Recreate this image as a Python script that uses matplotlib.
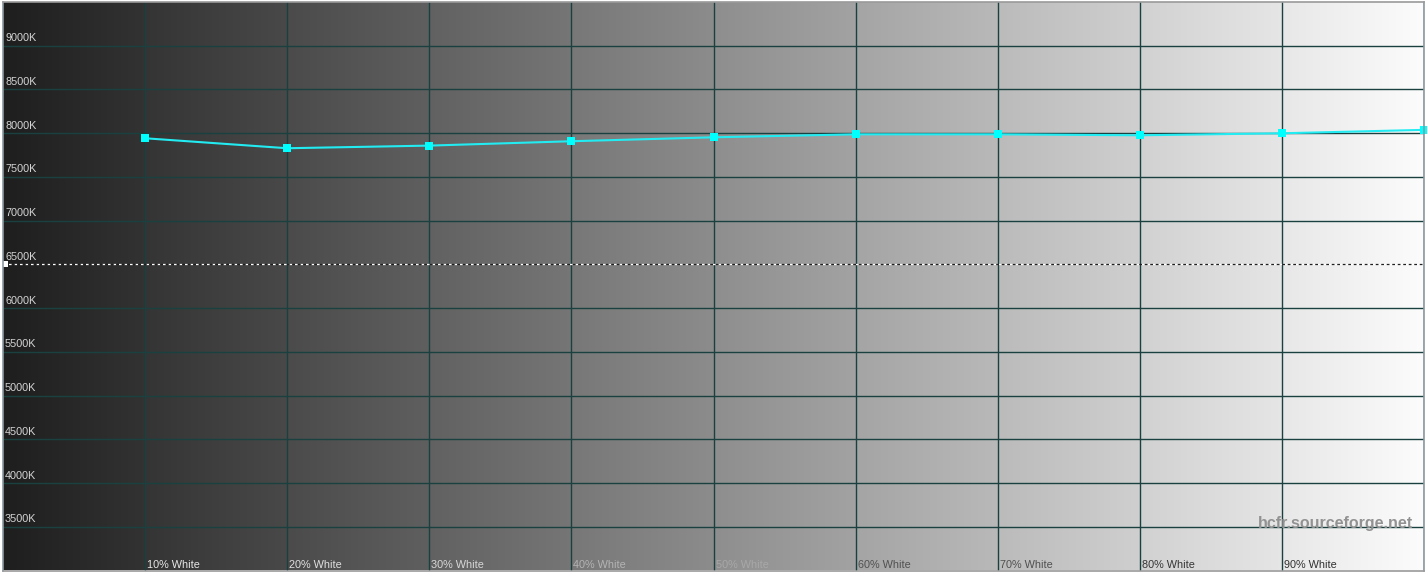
#!/usr/bin/env python3
"""Greyscale colour temperature chart (HCFR style)."""

import matplotlib

matplotlib.use("Agg")
import matplotlib.pyplot as plt
import numpy as np

# data
levels = [10, 20, 30, 40, 50, 60, 70, 80, 90, 100]
color_temp = [7942, 7828, 7858, 7908, 7953, 7987, 7987, 7976, 7999, 8038]
tick_labels = ["10% White", "20% White", "30% White", "40% White", "50% White",
               "60% White", "70% White", "80% White", "90% White"]
ytick_values = [3500, 4000, 4500, 5000, 5500, 6000, 6500, 7000, 7500, 8000, 8500, 9000]
reference_temp = 6500
watermark = "hcfr.sourceforge.net"

# label colours against the grey background
xlabel_colors = ["#e8e8e8", "#e0e0e0", "#d8d8d8", "#b4b4b4", "#a8a8a8",
                 "#505050", "#505050", "#353535", "#303030"]

X_MIN, X_MAX = 0, 100
Y_MIN, Y_MAX = 3000, 9500
GRID = "#1b4040"
FONT = "Liberation Sans"


def background() -> np.ndarray:
    xs = np.linspace(0, 100, 1421, endpoint=False)
    col = np.floor(xs / 10)
    frac = (xs - col * 10) / 10
    grey = (30 + 22.4 * col + 20.5 * frac) / 255
    grey = np.clip(grey, 0, 1)
    img = np.repeat(grey[None, :, None], 3, axis=2)
    return img


def main() -> int:
    fig = plt.figure(figsize=(14.27, 5.72), dpi=100)
    fig.patch.set_facecolor("white")
    ax = fig.add_axes([3 / 1427, 1.5 / 572, 1421 / 1427, 568.5 / 572])

    ax.imshow(background(), extent=[X_MIN, X_MAX, Y_MIN, Y_MAX],
              aspect="auto", interpolation="nearest", zorder=0)
    ax.set_xlim(X_MIN, X_MAX)
    ax.set_ylim(Y_MIN, Y_MAX)

    for lvl in levels:
        ax.axvline(lvl, color=GRID, linewidth=1.0, zorder=1)
    for yv in ytick_values:
        if yv == reference_temp:
            continue
        ax.axhline(yv, color=GRID, linewidth=1.0, zorder=1)

    # reference white point: alternating white / black dashes
    ax.axhline(reference_temp, color="white", linewidth=0.9,
               linestyle=(0, (2.2, 2.2)), zorder=2)
    ax.axhline(reference_temp, color="#202020", linewidth=0.9,
               linestyle=(2.2, (2.2, 2.2)), zorder=2)
    ax.plot([X_MIN + 0.12], [reference_temp], marker="s", markersize=4,
            color="white", markeredgewidth=0, zorder=3, clip_on=False)

    ax.plot(levels, color_temp, color="#22ecf2", linewidth=1.5, zorder=4)
    ax.plot(levels, color_temp, linestyle="none", marker="s", markersize=5.6,
            color="#00ffff", markeredgewidth=0, zorder=5, clip_on=False)

    for yv in ytick_values:
        ax.annotate(f"{yv}K", xy=(0, yv), xycoords=("axes fraction", "data"),
                    xytext=(2, 2.5), textcoords="offset pixels",
                    ha="left", va="bottom", fontsize=7.8, family=FONT,
                    color="#d4d4d4", zorder=6)

    for lvl, label, c in zip(levels, tick_labels, xlabel_colors):
        ax.annotate(label, xy=(lvl, 0), xycoords=("data", "axes fraction"),
                    xytext=(2, 0), textcoords="offset pixels",
                    ha="left", va="bottom", fontsize=7.8, family=FONT,
                    color=c, zorder=6)

    ax.annotate(watermark, xy=(1, 0), xycoords="axes fraction",
                xytext=(-11, 47), textcoords="offset pixels",
                ha="right", va="center", fontsize=11.5, family=FONT,
                fontweight="bold", color="#929292", zorder=6)

    ax.set_xticks([])
    ax.set_yticks([])
    for name, spine in ax.spines.items():
        spine.set_linewidth(1.2)
        spine.set_color("#8c9aa0" if name in ("left", "right") else "#9a9a9a")
        spine.set_zorder(7)

    fig.savefig("out.png", dpi=100, facecolor=fig.get_facecolor())
    plt.close(fig)
    return 0


if __name__ == "__main__":
    raise SystemExit(main())
